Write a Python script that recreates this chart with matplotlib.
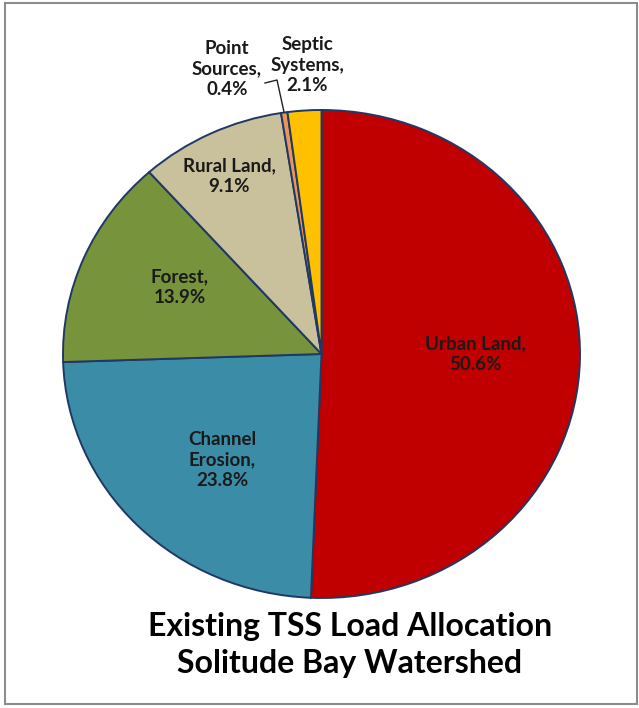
import matplotlib.pyplot as plt
from matplotlib.patches import Rectangle

labels = ["Urban Land,\n50.6%", "Channel\nErosion,\n23.8%", "Forest,\n13.9%",
          "Rural Land,\n9.1%", "Point\nSources,\n0.4%", "Septic\nSystems,\n2.1%"]
values = [50.6, 23.8, 13.9, 9.1, 0.4, 2.1]
colors = ["#C00000", "#3B8DA7", "#77933C", "#C9C19C", "#E9965A", "#FFC000"]
# label centres in pixels (from top-left)
label_pos = [(475, 354), (222, 460), (180, 287), (229, 176), (227, 69), (307, 65)]

W, H = 639, 708
fig = plt.figure(figsize=(W / 100, H / 100), dpi=100)
ax = fig.add_axes([0, 0, 1, 1])

cx, cy, rx, ry = 321.5, 354, 258.5, 244
ax.pie(values, colors=colors, startangle=90, counterclock=False,
       radius=1, center=(0, 0),
       wedgeprops=dict(edgecolor="#1F3864", linewidth=1.4))
ax.set_aspect("auto")
ax.set_xlim(-cx / rx, (W - cx) / rx)
ax.set_ylim(-(H - cy) / ry, cy / ry)
ax.axis("off")

for lab, (px, py) in zip(labels, label_pos):
    fig.text(px / W, 1 - py / H, lab, ha="center", va="center",
             fontsize=13.5, fontweight="bold", family="Lato", color="#1a1a1a",
             linespacing=1.25)

# leader line for Point Sources
fig.add_artist(plt.Line2D([265 / W, 277 / W, 284 / W],
                          [1 - 83 / H, 1 - 80 / H, 1 - 112 / H],
                          color="#222222", lw=1))

fig.text(350 / W, 1 - 645 / H, "Existing TSS Load Allocation\nSolitude Bay Watershed",
         ha="center", va="center", fontsize=23, fontweight="bold",
         family="Lato", color="black", linespacing=1.35)

fig.add_artist(Rectangle((4.5 / W, 1 - 703.5 / H), 632 / W, 701 / H,
                         transform=fig.transFigure, fill=False,
                         edgecolor="#8C8C8C", lw=1.5))

fig.savefig("out.png", dpi=100)
